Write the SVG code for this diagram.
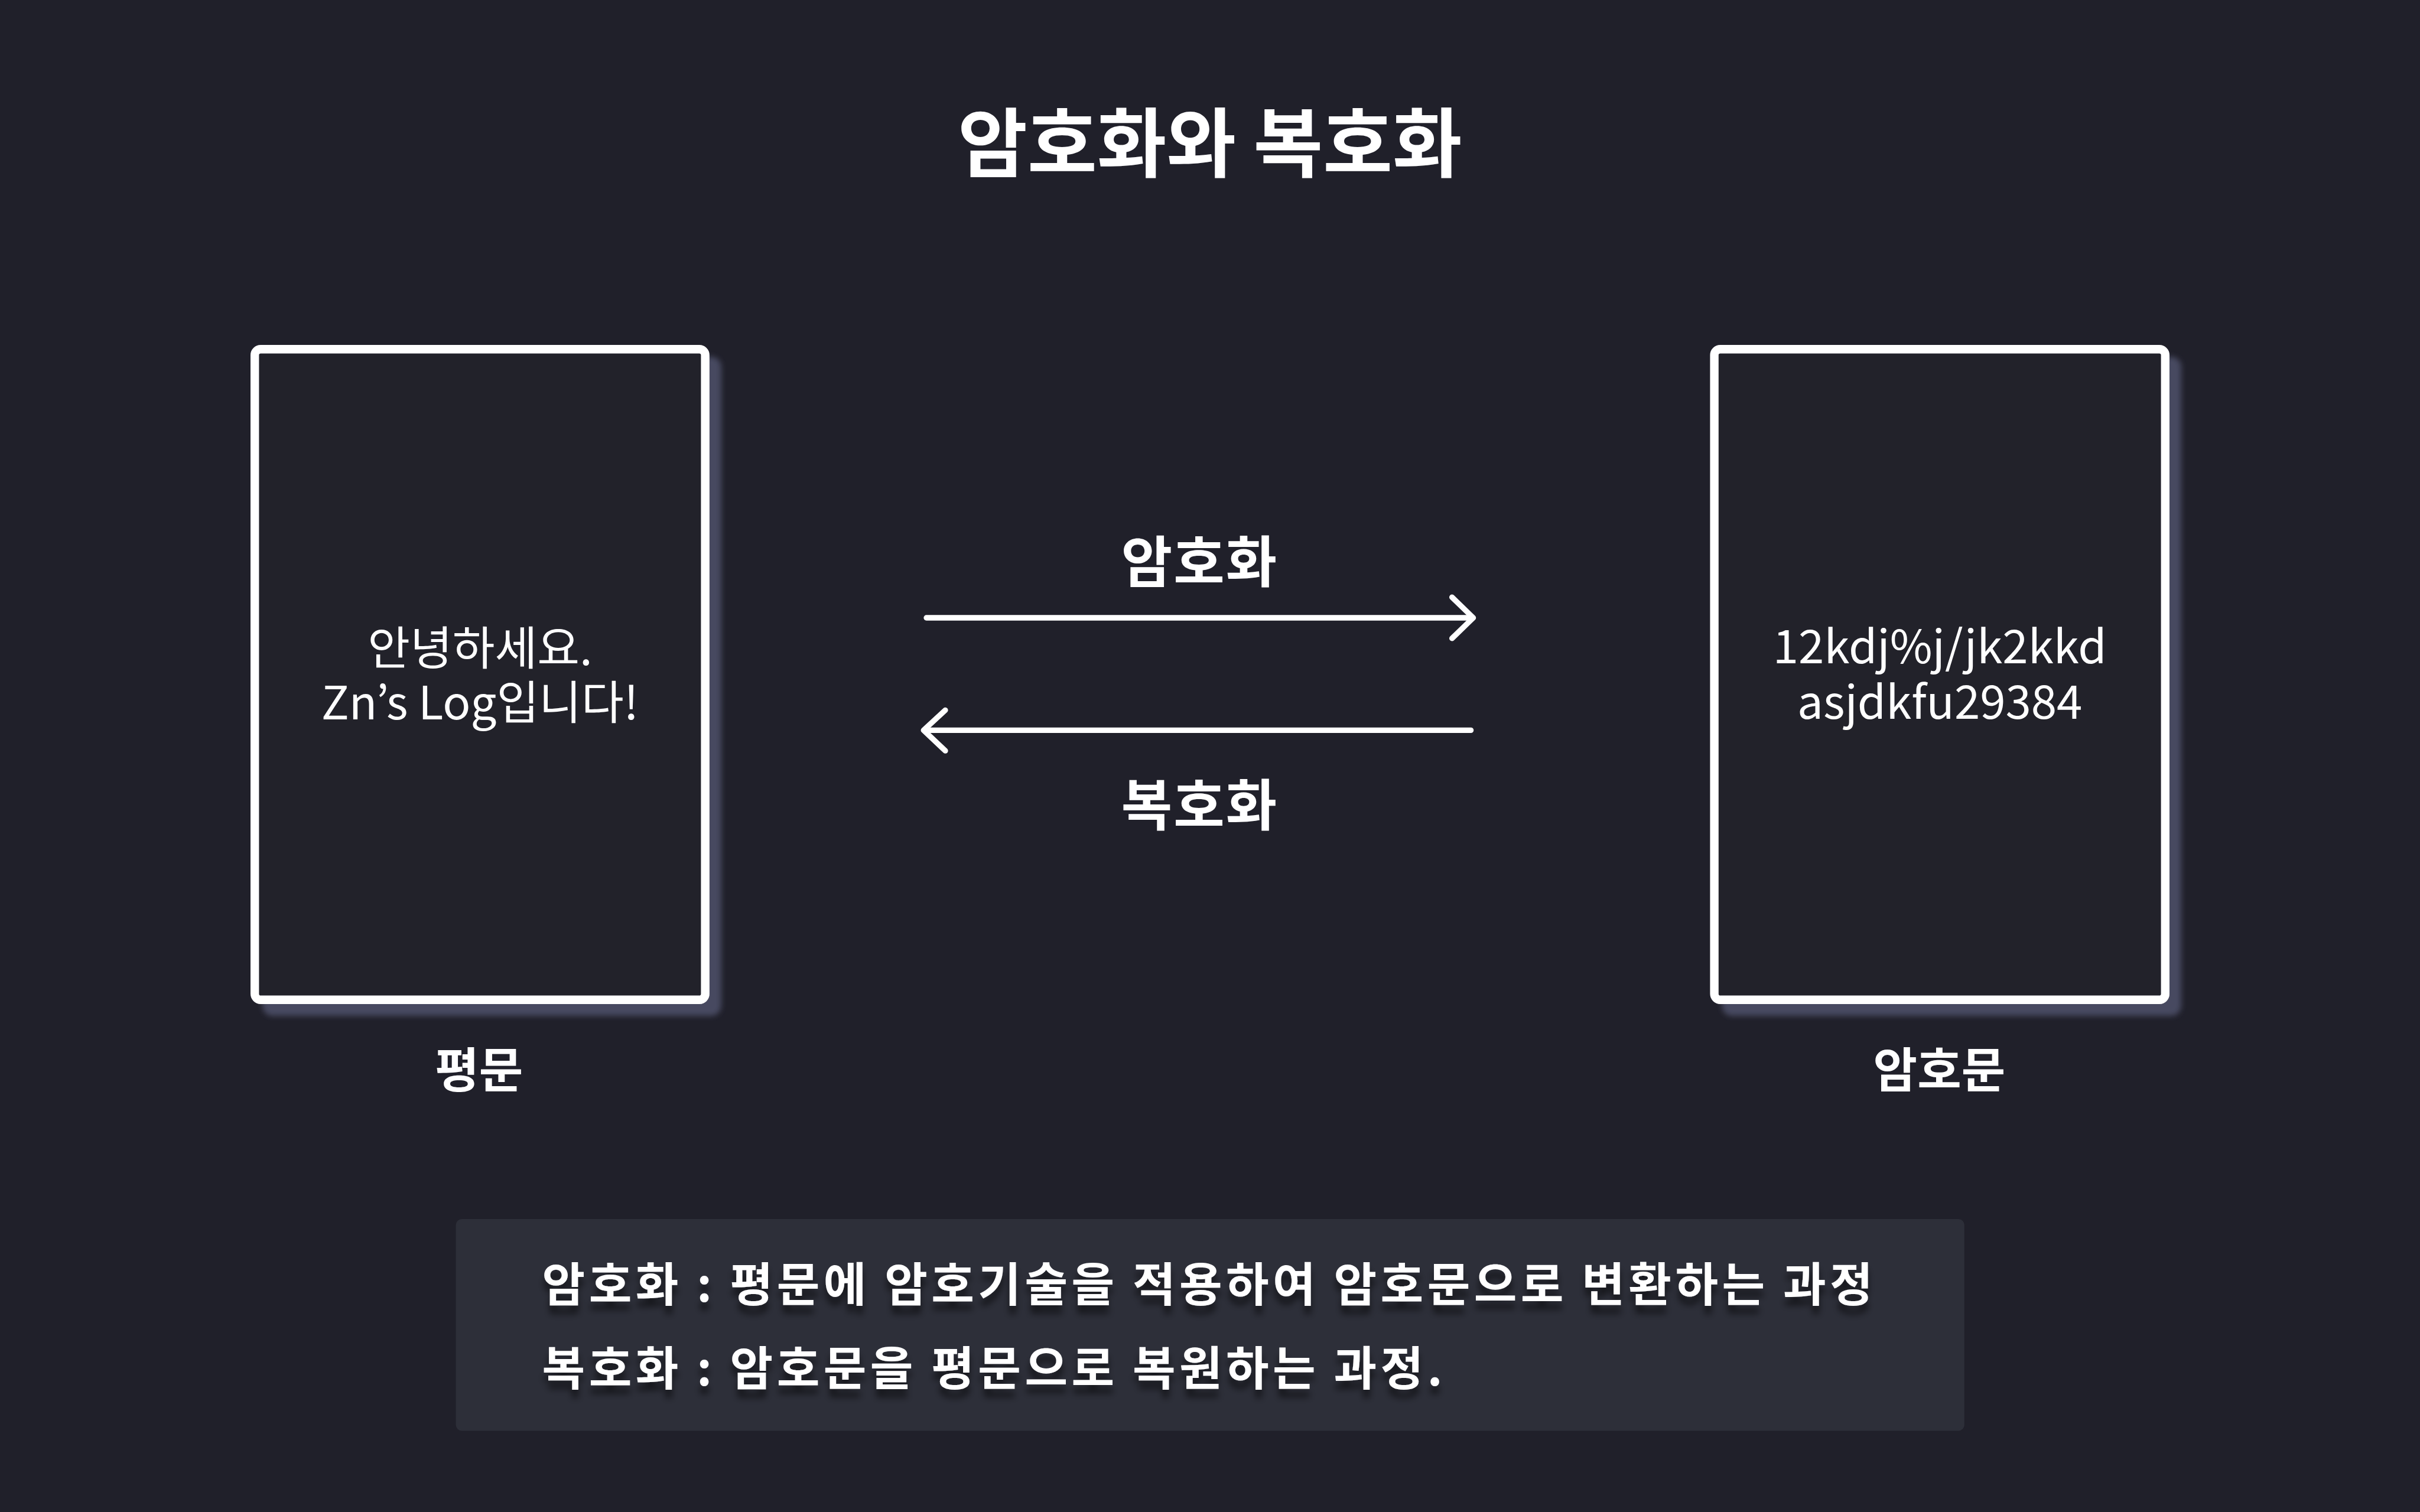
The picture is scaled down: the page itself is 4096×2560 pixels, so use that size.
<svg xmlns="http://www.w3.org/2000/svg" width="4096" height="2560" viewBox="0 0 4096 2560">
<defs>
<style>
text{font-family:"Noto Sans CJK KR","Noto Sans",sans-serif;fill:#ffffff}
.title{font-size:128px;font-weight:700}
.lbl{font-size:94px;font-weight:700;letter-spacing:2px}
.cap{font-size:81px;font-weight:700}
.body{font-size:78px;font-weight:400}
.desc{font-size:79px;font-weight:700;letter-spacing:6.4px}
.box{fill:#20202a;stroke:#ffffff;stroke-width:14.4}
.conn{fill:none;stroke:#ffffff;stroke-width:9.3;stroke-linecap:round;stroke-linejoin:round}
</style>
<filter id="boxShadow" x="-10%" y="-10%" width="130%" height="130%">
<feDropShadow dx="20" dy="20" stdDeviation="5" flood-color="#474960" flood-opacity="1"/>
</filter>
<filter id="textShadow" x="-5%" y="-30%" width="110%" height="180%">
<feDropShadow dx="0" dy="14" stdDeviation="6" flood-color="#000000" flood-opacity="0.55"/>
</filter>
</defs>
<rect x="0" y="0" width="4096" height="2560" fill="#20202a"/>
<g id="title">
<text class="title" x="2048" y="290" text-anchor="middle">암호화와 복호화</text>
</g>
<g id="plaintext">
<rect class="box" x="431.2" y="591.2" width="762.4" height="1101.6" rx="10" filter="url(#boxShadow)"/>
<text class="body" x="812.4" y="1126" text-anchor="middle">안녕하세요.</text>
<text class="body" x="812.4" y="1218" text-anchor="middle">Zn’s Log입니다!</text>
<text class="cap" x="810.8" y="1841" text-anchor="middle">평문</text>
</g>
<g id="ciphertext">
<rect class="box" x="2901.6" y="591.2" width="763.2" height="1101.6" rx="10" filter="url(#boxShadow)"/>
<text class="body" x="3283.2" y="1123" text-anchor="middle">12kdj%j/jk2kkd</text>
<text class="body" x="3283.2" y="1217" text-anchor="middle">asjdkfu29384</text>
<text class="cap" x="3282.4" y="1841" text-anchor="middle">암호문</text>
</g>
<g id="connectors">
<g id="encrypt">
<line class="conn" x1="1568" y1="1046" x2="2492" y2="1046"/>
<polyline class="conn" points="2457.6,1011.2 2493.6,1046 2457.6,1080.8"/>
<text class="lbl" x="2030.6" y="986" text-anchor="middle">암호화</text>
</g>
<g id="decrypt">
<line class="conn" x1="1565" y1="1236.4" x2="2489.6" y2="1236.4"/>
<polyline class="conn" points="1600,1202.4 1563.2,1236.4 1600,1271.2"/>
<text class="lbl" x="2030.6" y="1398" text-anchor="middle">복호화</text>
</g>
</g>
<g id="description">
<rect x="771.6" y="2064" width="2553.2" height="358.4" rx="10" fill="#2d2f39"/>
<g filter="url(#textShadow)">
<text class="desc" x="917.6" y="2204">암호화 : 평문에 암호기술을 적용하여 암호문으로 변환하는 과정</text>
<text class="desc" x="917.6" y="2346">복호화 : 암호문을 평문으로 복원하는 과정.</text>
</g>
</g>
</svg>
